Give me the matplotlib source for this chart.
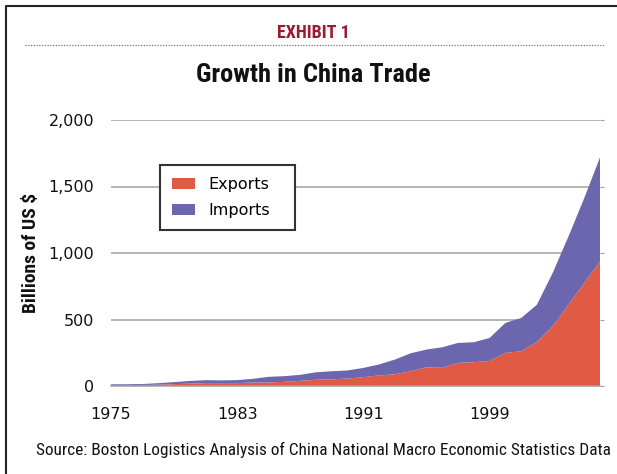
# Growth in China Trade - stacked area chart
import numpy as np
import matplotlib.pyplot as plt
from matplotlib.lines import Line2D
from matplotlib import font_manager

# Data (billions of US $)
years = list(range(1975, 2007))
exports = [7, 7, 8, 10, 14, 18, 22, 22, 22, 26, 27, 31, 39, 47, 50, 56,
           66, 80, 88, 112, 140, 137, 174, 179, 188, 249, 261, 331, 449, 611, 774, 936]
imports = [6, 6, 7, 11, 15, 20, 22, 20, 22, 28, 42, 43, 45, 56, 61, 61,
           70, 82, 111, 134, 134, 154, 150, 150, 173, 225, 250, 280, 401, 513, 638, 783]
series_names = ["Exports", "Imports"]
colors = ["#E15B44", "#6B66AE"]
xticks = [1975, 1983, 1991, 1999]
yticks = [0, 500, 1000, 1500, 2000]
ytick_labels = ["0", "500", "1,000", "1,500", "2,000"]

# look for a narrow font, else fall back to DejaVu Sans
names = set(f.name for f in font_manager.fontManager.ttflist)
narrow = [n for n in ["Liberation Sans Narrow", "Roboto Condensed", "Open Sans Condensed",
                      "DejaVu Sans Condensed"] if n in names] + ["DejaVu Sans"]
condensed = [f for f in font_manager.fontManager.ttflist
             if f.name == "DejaVu Sans" and f.stretch != "normal"]
is_narrow = len(narrow) > 1 or len(condensed) > 0

fig = plt.figure(figsize=(6.17, 4.74), dpi=100)
ax = fig.add_axes([111/617, 1-386/474, (600-111)/617, (386-120)/474])

# Stacked areas
ax.stackplot(years, exports, imports, colors=colors, labels=series_names, zorder=2)

# Axes
ax.set_xlim(1975, 2006)
ax.set_ylim(0, 2000)
ax.set_xticks(xticks)
ax.set_yticks(yticks)
ax.set_yticklabels(ytick_labels)
ax.grid(axis="y", color="#A0A0A0", lw=1.1, zorder=1)
for s in ["top", "right", "left"]:
    ax.spines[s].set_visible(False)
ax.spines["bottom"].set_color("#A0A0A0")
ax.spines["bottom"].set_linewidth(1.1)
ax.tick_params(axis="x", length=0, pad=15, labelsize=11.5, labelcolor="#111")
ax.tick_params(axis="y", which="both", left=False, right=True, length=3,
               color="#A0A0A0", pad=9, labelsize=11.5, labelcolor="#111")
ax.tick_params(axis="y", labelleft=True, labelright=False, direction="out")

k = 1.0 if is_narrow else 0.8
ax.set_ylabel("Billions of US $", family=narrow, fontweight="bold", stretch="condensed",
              fontsize=14*k, color="#111")
ax.yaxis.set_label_coords(-71/489, 0.5)

# Legend
leg = ax.legend(loc="upper left", bbox_to_anchor=(0.1, 0.581, 135/489, 0.25),
                mode="expand", fontsize=11.5,
                frameon=True, fancybox=False, framealpha=1, borderpad=0.75,
                handlelength=1.45, handleheight=0.7, handletextpad=0.85,
                labelspacing=0.7, borderaxespad=0)
leg.get_frame().set_edgecolor("#333333")
leg.get_frame().set_linewidth(1.5)

# Titles and source
fig.text(313/617, 1-33/474, "EXHIBIT 1", ha="center", va="center", stretch="condensed",
         color="#9B1B30", fontsize=13*k, fontweight="bold", family=narrow)
fig.text(313/617, 1-75/474, "Growth in China Trade", ha="center", va="center",
         stretch="condensed", color="#111", fontsize=19*(1.0 if is_narrow else 0.76),
         fontweight="bold", family=narrow)
fig.text(323.5/617, 1-450/474,
         "Source: Boston Logistics Analysis of China National Macro Economic Statistics Data",
         ha="center", va="center", color="#111", stretch="condensed",
         fontsize=12.4*(1.0 if is_narrow else 0.83), family=narrow)

# Dotted rule and frame
fig.add_artist(Line2D([25/617, 605/617], [1-45/474, 1-45/474], color="#777777",
                      lw=0.9, linestyle=(0, (1, 1.2))))
fig.add_artist(Line2D([6/617, 6/617, 1], [0, 1-6/474, 1-6/474], color="#222222", lw=1.5))

plt.savefig("out.png", dpi=100)
